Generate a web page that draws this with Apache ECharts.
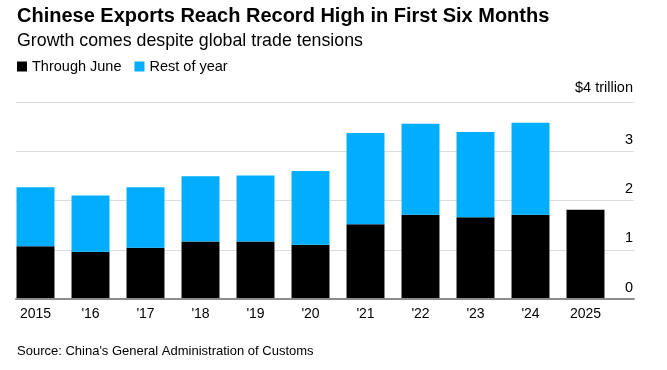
<!DOCTYPE html>
<html>
<head>
<meta charset="utf-8">
<script src="https://cdn.jsdelivr.net/npm/echarts@6/dist/echarts.min.js"></script>
<style>
html,body{margin:0;padding:0;background:#fff;}
#chart{width:667px;height:370px;}
</style>
</head>
<body>
<div id="chart"></div>
<script>
var categories = ['2015', "'16", "'17", "'18", "'19", "'20", "'21", "'22", "'23", "'24", '2025'];
var throughJune = [1.07, 0.96, 1.04, 1.17, 1.17, 1.10, 1.52, 1.71, 1.66, 1.71, 1.81];
var restOfYear = [1.20, 1.14, 1.23, 1.32, 1.34, 1.50, 1.85, 1.85, 1.73, 1.87, null];
var yTicks = [0, 1, 2, 3, 4];

var FONT = "'Liberation Sans', Arial, Helvetica, sans-serif";
var chart = echarts.init(document.getElementById('chart'), null, {renderer: 'canvas'});

var option = {
  animation: false,
  backgroundColor: '#ffffff',
  textStyle: {fontFamily: FONT},
  title: {
    text: 'Chinese Exports Reach Record High in First Six Months',
    subtext: 'Growth comes despite global trade tensions',
    left: 12,
    top: 1,
    itemGap: 6,
    textStyle: {fontFamily: FONT, fontSize: 20, fontWeight: 'bold', color: '#000'},
    subtextStyle: {fontFamily: FONT, fontSize: 17.8, color: '#000'}
  },
  legend: {
    left: 12,
    top: 54,
    icon: 'rect',
    itemWidth: 10,
    itemHeight: 10,
    itemGap: 13,
    textStyle: {fontFamily: FONT, fontSize: 14.5, color: '#000'},
    data: ['Through June', 'Rest of year']
  },
  grid: [
    {left: 8, width: 605, top: 102, bottom: 71},
    {left: 16, width: 618, top: 102, bottom: 71}
  ],
  xAxis: [
    {
      type: 'category', gridIndex: 0, data: categories,
      axisLine: {show: false}, axisTick: {show: false},
      axisLabel: {fontFamily: FONT, fontSize: 14, color: '#000', margin: 8}
    },
    {
      type: 'value', gridIndex: 1, min: 0, max: 1,
      axisLabel: {show: false}, axisTick: {show: false}, splitLine: {show: false},
      axisLine: {show: true, lineStyle: {color: '#8c8c8c', width: 2}},
      z: 5
    }
  ],
  yAxis: [
    {
      type: 'value', gridIndex: 0, min: 0, max: 4, interval: 1,
      show: false
    },
    {
      type: 'value', gridIndex: 1, min: yTicks[0], max: yTicks[yTicks.length - 1], interval: 1,
      position: 'right',
      axisLine: {show: false}, axisTick: {show: false},
      splitLine: {show: true, lineStyle: {color: '#dcdcdc', width: 1}},
      axisLabel: {
        inside: true, margin: 1, align: 'right', verticalAlign: 'bottom',
        fontFamily: FONT, fontSize: 14.5, color: '#000', padding: [0, 0, 4, 0],
        formatter: function (v) { return v === 4 ? '{top|$4 trillion}' : String(v); },
        rich: {top: {fontFamily: FONT, fontSize: 14.5, color: '#000', padding: [0, 0, 3, 0]}}
      }
    }
  ],
  series: [
    {
      name: 'Through June', type: 'bar', stack: 'total',
      xAxisIndex: 0, yAxisIndex: 0,
      barCategoryGap: '31%',
      itemStyle: {color: '#000000'},
      data: throughJune, z: 3
    },
    {
      name: 'Rest of year', type: 'bar', stack: 'total',
      xAxisIndex: 0, yAxisIndex: 0,
      barCategoryGap: '31%',
      itemStyle: {color: '#00adff'},
      data: restOfYear, z: 3
    }
  ],
  graphic: [
    {
      type: 'text', left: 17, top: 345,
      style: {text: "Source: China's General Administration of Customs", font: '13px ' + FONT, fill: '#000'}
    }
  ]
};
chart.setOption(option);
</script>
</body>
</html>
